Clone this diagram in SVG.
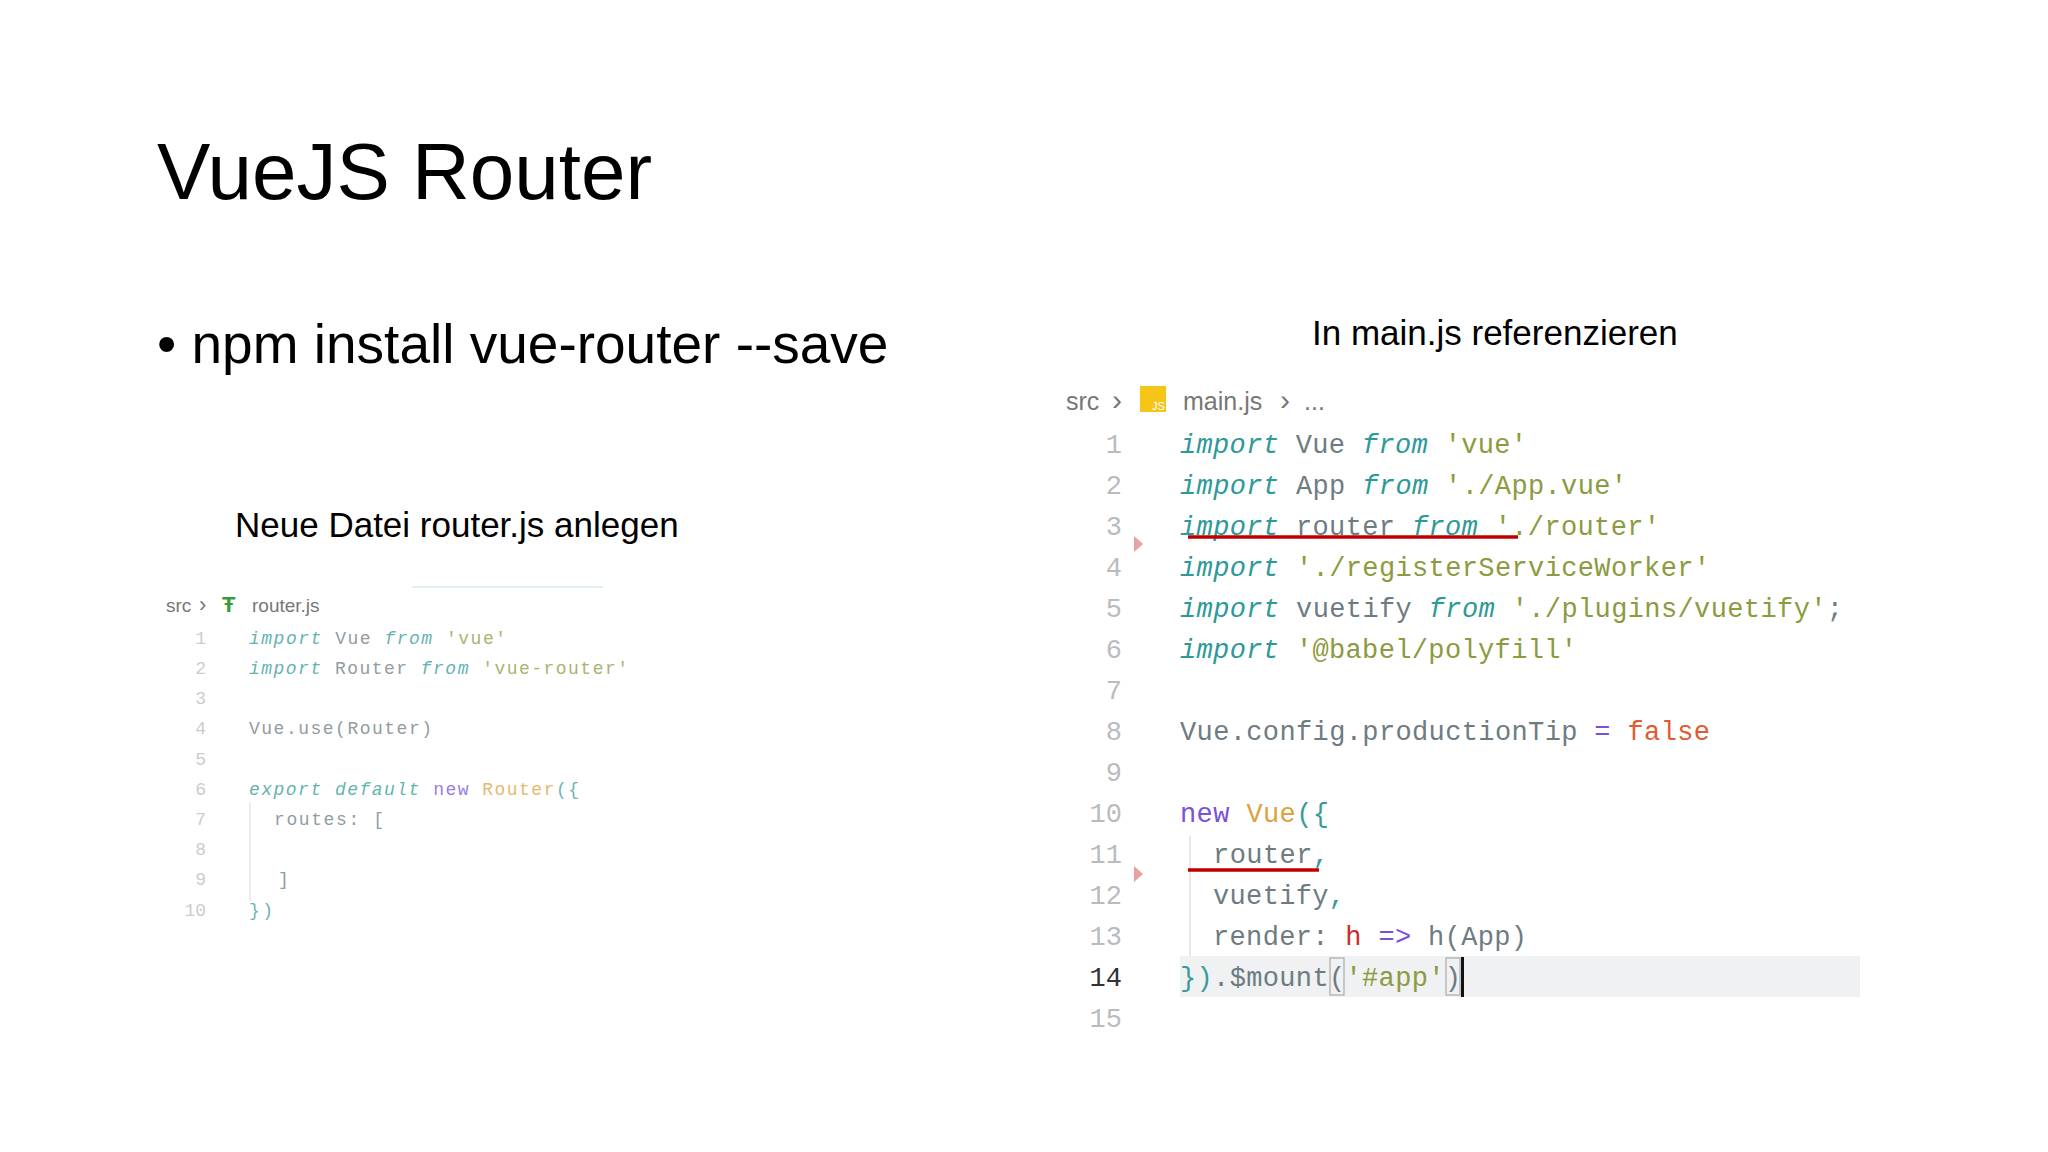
<svg xmlns="http://www.w3.org/2000/svg" width="2048" height="1152" viewBox="0 0 2048 1152">
<style>
.s{font-family:"Liberation Sans","Open Sans",sans-serif;fill:#000}
.m{font-family:"Liberation Mono","DejaVu Sans Mono",monospace}
.L{font-size:18px;opacity:0.75}
.R{font-size:27px}
.n{fill:#b8bcbf;text-anchor:end}
.k{fill:#2e9a98;font-style:italic}
.i{fill:#6e7c82}
.g{fill:#8c9b40}
.p{fill:#7a52d8}
.y{fill:#dca240}
.o{fill:#e25a32}
.r{fill:#d22a2a}
.t{fill:#3a9a9a}
.h{font-family:"Liberation Sans","Open Sans",sans-serif;fill:#777}
</style>
<rect width="2048" height="1152" fill="#fff"/>
<g id="title"><text class="s" x="157" y="199" font-size="80">VueJS Router</text></g>
<g id="bullet"><text class="s" x="157" y="363" font-size="55">• npm install vue-router --save</text></g>
<g id="cap-right"><text class="s" x="1312" y="345" font-size="35">In main.js referenzieren</text></g>
<g id="cap-left"><text class="s" x="235" y="537" font-size="35">Neue Datei router.js anlegen</text></g>

<g id="left-code">
<line x1="412" y1="587" x2="603" y2="587" stroke="#d6ecec" stroke-width="1.5"/>
<text class="h" x="166" y="612" font-size="19">src</text>
<text class="h" x="199" y="612" font-size="22">›</text>
<text x="222" y="612" font-size="22" fill="#3a9a3a" font-family="Liberation Sans,sans-serif" font-weight="bold">Ŧ</text>
<text class="h" x="252" y="612" font-size="19">router.js</text>
<line x1="250" y1="803" x2="250" y2="901" stroke="#e4e4e4" stroke-width="1.5"/>
<g class="m L">
<text class="n" x="206" y="644">1</text><text x="249" y="644" textLength="257"><tspan class="k">import</tspan><tspan class="i"> Vue </tspan><tspan class="k">from</tspan><tspan class="g"> 'vue'</tspan></text>
<text class="n" x="206" y="674">2</text><text x="249" y="674" textLength="379"><tspan class="k">import</tspan><tspan class="i"> Router </tspan><tspan class="k">from</tspan><tspan class="g"> 'vue-router'</tspan></text>
<text class="n" x="206" y="704">3</text>
<text class="n" x="206" y="734">4</text><text x="249" y="734" textLength="183" class="i">Vue.use(Router)</text>
<text class="n" x="206" y="765">5</text>
<text class="n" x="206" y="795">6</text><text x="249" y="795" textLength="330"><tspan class="k">export default</tspan><tspan class="p"> new</tspan><tspan class="y"> Router</tspan><tspan class="t">({</tspan></text>
<text class="n" x="206" y="825">7</text><text x="274" y="825" class="i" textLength="110">routes: [</text>
<text class="n" x="206" y="855">8</text>
<text class="n" x="206" y="885">9</text><text x="278" y="885" class="i">]</text>
<text class="n" x="206" y="916">10</text><text x="249" y="916" class="t" textLength="24">})</text>
</g>
</g>

<g id="right-code">
<text class="h" x="1066" y="410" font-size="25">src</text>
<text class="h" x="1112" y="410" font-size="30">›</text>
<rect x="1140" y="386" width="26" height="26" fill="#f5c518"/>
<text x="1152" y="410" font-size="11" fill="#fff" font-family="Liberation Sans,sans-serif">JS</text>
<text class="h" x="1183" y="410" font-size="25">main.js</text>
<text class="h" x="1280" y="410" font-size="30">›</text>
<text class="h" x="1304" y="410" font-size="25">...</text>
<rect x="1180" y="956" width="680" height="41" fill="#f0f1f3"/>
<line x1="1190" y1="836" x2="1190" y2="956" stroke="#e0e0e0" stroke-width="1.5"/>
<g class="m R">
<text class="n" x="1122" y="453">1</text><text x="1180" y="453" textLength="347"><tspan class="k">import</tspan><tspan class="i"> Vue </tspan><tspan class="k">from</tspan><tspan class="g"> 'vue'</tspan></text>
<text class="n" x="1122" y="494">2</text><text x="1180" y="494" textLength="447"><tspan class="k">import</tspan><tspan class="i"> App </tspan><tspan class="k">from</tspan><tspan class="g"> './App.vue'</tspan></text>
<text class="n" x="1122" y="535">3</text><text x="1180" y="535" textLength="480"><tspan class="k">import</tspan><tspan class="i"> router </tspan><tspan class="k">from</tspan><tspan class="g"> './router'</tspan></text>
<text class="n" x="1122" y="576">4</text><text x="1180" y="576" textLength="530"><tspan class="k">import</tspan><tspan class="g"> './registerServiceWorker'</tspan></text>
<text class="n" x="1122" y="617">5</text><text x="1180" y="617" textLength="663"><tspan class="k">import</tspan><tspan class="i"> vuetify </tspan><tspan class="k">from</tspan><tspan class="g"> './plugins/vuetify'</tspan><tspan class="i">;</tspan></text>
<text class="n" x="1122" y="658">6</text><text x="1180" y="658" textLength="397"><tspan class="k">import</tspan><tspan class="g"> '@babel/polyfill'</tspan></text>
<text class="n" x="1122" y="699">7</text>
<text class="n" x="1122" y="740">8</text><text x="1180" y="740" textLength="530"><tspan class="i">Vue.config.productionTip </tspan><tspan class="p">=</tspan><tspan class="o"> false</tspan></text>
<text class="n" x="1122" y="781">9</text>
<text class="n" x="1122" y="822">10</text><text x="1180" y="822" textLength="149"><tspan class="p">new</tspan><tspan class="y"> Vue</tspan><tspan class="t">({</tspan></text>
<text class="n" x="1122" y="863">11</text><text x="1213" y="863" textLength="116"><tspan class="i">router</tspan><tspan class="t">,</tspan></text>
<text class="n" x="1122" y="904">12</text><text x="1213" y="904" textLength="132"><tspan class="i">vuetify</tspan><tspan class="t">,</tspan></text>
<text class="n" x="1122" y="945">13</text><text x="1213" y="945" textLength="314"><tspan class="i">render: </tspan><tspan class="r">h</tspan><tspan class="p"> =&gt; </tspan><tspan class="i">h(App)</tspan></text>
<text class="n" x="1122" y="986" style="fill:#333">14</text><text x="1180" y="986" textLength="281"><tspan class="t">})</tspan><tspan class="i">.$mount(</tspan><tspan class="g">'#app'</tspan><tspan class="i">)</tspan></text>
<text class="n" x="1122" y="1027">15</text>
</g>
<rect x="1330" y="958" width="14" height="37" fill="none" stroke="#aaa" stroke-width="1.2"/>
<rect x="1446" y="958" width="14" height="37" fill="none" stroke="#aaa" stroke-width="1.2"/>
<rect x="1461" y="957" width="3" height="40" fill="#111"/>
<line x1="1188" y1="537" x2="1518" y2="537" stroke="#c00000" stroke-width="3.5"/>
<line x1="1188" y1="870" x2="1319" y2="870" stroke="#c00000" stroke-width="3.5"/>
<polygon points="1134,536 1143,544 1134,552" fill="#e8a0a0"/>
<polygon points="1134,866 1143,874 1134,882" fill="#e8a0a0"/>
</g>
</svg>
